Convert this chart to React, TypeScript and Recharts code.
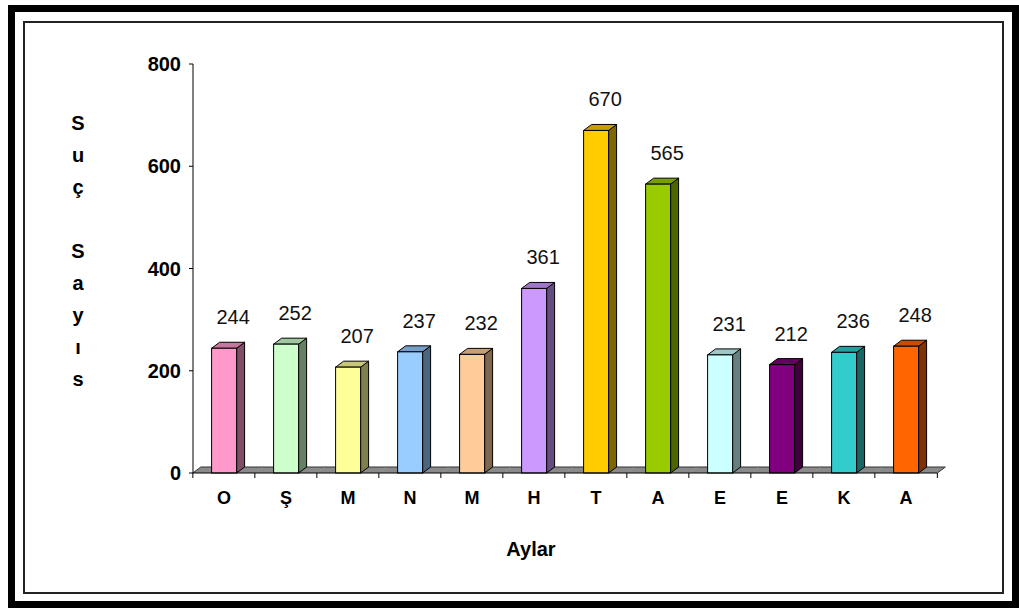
import React from "react"
import { Bar, BarChart, LabelList, XAxis, YAxis } from "recharts"

const months = ["O", "Ş", "M", "N", "M", "H", "T", "A", "E", "E", "K", "A"]
const crimeCounts = [244, 252, 207, 237, 232, 361, 670, 565, 231, 212, 236, 248]
const barColors = [
  "#ff99cc",
  "#ccffcc",
  "#ffff99",
  "#99ccff",
  "#ffcc99",
  "#cc99ff",
  "#ffcc00",
  "#99cc00",
  "#ccffff",
  "#800080",
  "#33cccc",
  "#ff6600",
]
const yTicks = [0, 200, 400, 600, 800]
const yTitle = ["S", "u", "ç", "", "S", "a", "y", "ı", "s"]

const data = months.map((m, i) => ({ month: m, count: crimeCounts[i] }))

const FONT = "'Liberation Sans', Arial, sans-serif"
const W = 1019
const H = 608
const MARGIN = { top: 64, right: 82, bottom: 105, left: 133 }
const Y_AXIS_W = 60
const CAT_GAP = 0.3
const DX = 8
const DY = 6

const shade = (hex: string, k: number) => {
  const n = parseInt(hex.slice(1), 16)
  const r = Math.round(((n >> 16) & 255) * k)
  const g = Math.round(((n >> 8) & 255) * k)
  const b = Math.round((n & 255) * k)
  return `rgb(${r},${g},${b})`
}

// front face + side + top, plus the grey floor slice for this category
const Bar3D = (props: any) => {
  const { x, y, width, height, index } = props
  const color = barColors[index]
  const base = y + height
  const band = width / (1 - 2 * CAT_GAP)
  const bx = x + width / 2 - band / 2
  const last = index === months.length - 1
  return (
    <g>
      <polygon
        points={`${bx},${base} ${bx + DX},${base - DY} ${bx + band + DX},${base - DY} ${bx + band},${base}`}
        fill="#8a8a8a"
      />
      <line x1={bx + DX} y1={base - DY} x2={bx + band + DX} y2={base - DY} stroke="#333" />
      {index === 0 && (
        <line x1={bx} y1={base} x2={bx + DX} y2={base - DY} stroke="#333" />
      )}
      {last && (
        <line x1={bx + band} y1={base} x2={bx + band + DX} y2={base - DY} stroke="#333" />
      )}
      <line x1={bx} y1={base} x2={bx} y2={base + 5} stroke="#000" />
      {last && <line x1={bx + band} y1={base} x2={bx + band} y2={base + 5} stroke="#000" />}
      <polygon
        points={`${x + width},${y} ${x + width + DX},${y - DY} ${x + width + DX},${base - DY} ${x + width},${base}`}
        fill={shade(color, 0.5)}
        stroke="#000"
        strokeWidth={1}
      />
      <polygon
        points={`${x},${y} ${x + DX},${y - DY} ${x + width + DX},${y - DY} ${x + width},${y}`}
        fill={shade(color, 0.78)}
        stroke="#000"
        strokeWidth={1}
      />
      <rect x={x} y={y} width={width} height={height} fill={color} stroke="#000" strokeWidth={1} />
    </g>
  )
}

const ValueLabel = (props: any) => {
  const { x, y, width, value } = props
  return (
    <text
      x={x + width / 2 + 9}
      y={y - 24}
      textAnchor="middle"
      fontSize={20}
      fontFamily={FONT}
      fill="#111"
    >
      {value}
    </text>
  )
}

export default function App() {
  return (
    <div
      style={{
        position: "absolute",
        left: 0,
        top: 0,
        width: W,
        height: H,
        background: "#fff",
        fontFamily: FONT,
      }}
    >
      <div
        style={{
          position: "absolute",
          left: 8,
          top: 5,
          width: 1011,
          height: 603,
          border: "7px solid #000",
          boxSizing: "border-box",
        }}
      />
      <div
        style={{
          position: "absolute",
          left: 23,
          top: 21,
          width: 981,
          height: 573,
          border: "2px solid #222",
          boxSizing: "border-box",
        }}
      />
      <div
        style={{
          position: "absolute",
          left: 58,
          top: 107,
          width: 40,
          textAlign: "center",
          fontWeight: "bold",
          fontSize: 20,
          lineHeight: "32px",
        }}
      >
        {yTitle.map((ch, i) => (
          <div key={i} style={{ height: 32 }}>
            {ch}
          </div>
        ))}
      </div>
      <div
        style={{
          position: "absolute",
          left: 481,
          top: 537,
          width: 100,
          textAlign: "center",
          fontWeight: "bold",
          fontSize: 20,
          lineHeight: "24px",
        }}
      >
        Aylar
      </div>
      <div style={{ position: "absolute", left: 0, top: 0 }}>
        <BarChart width={W} height={H} data={data} margin={MARGIN} barCategoryGap="30%">
          <XAxis
            dataKey="month"
            height={30}
            axisLine={{ stroke: "#000" }}
            tickLine={false}
            tickSize={0}
            tickMargin={18}
            tick={{ fontSize: 18, fontWeight: "bold", fill: "#000", fontFamily: FONT }}
            interval={0}
          />
          <YAxis
            width={Y_AXIS_W}
            domain={[0, 800]}
            ticks={yTicks}
            interval={0}
            axisLine={{ stroke: "#000" }}
            tickLine={{ stroke: "#000" }}
            tickSize={4}
            tickMargin={8}
            tick={{ fontSize: 20, fontWeight: "bold", fill: "#000", fontFamily: FONT }}
          />
          <Bar dataKey="count" shape={Bar3D} isAnimationActive={false}>
            <LabelList dataKey="count" content={ValueLabel} />
          </Bar>
        </BarChart>
      </div>
    </div>
  )
}
